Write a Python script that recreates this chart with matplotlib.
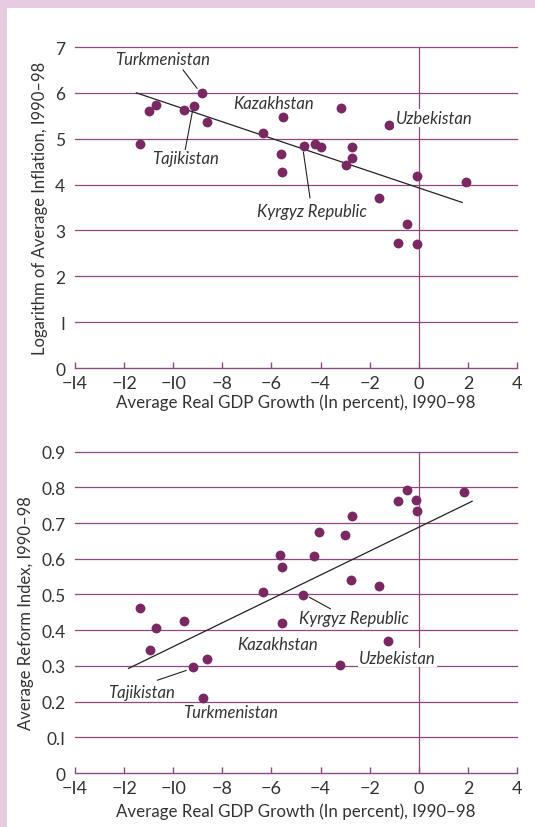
import matplotlib.pyplot as plt
from matplotlib.patches import Rectangle

# colours
PURPLE = '#8c4a7e'
DOT = '#7a2862'
TEXT = '#333333'
PINK = '#e7cbe3'

plt.rcParams['font.family'] = ['Lato', 'DejaVu Sans']

# panel 1: growth vs log inflation
growth_top = [-11.37, -10.98, -10.69, -9.57, -9.14, -8.82, -8.62, -6.33, -5.54, -5.62,
              -5.56, -4.67, -4.22, -3.99, -3.15, -2.97, -2.70, -2.74, -1.61, -1.23,
              -0.86, -0.48, -0.07, -0.07, 1.93]
log_infl = [4.89, 5.60, 5.74, 5.63, 5.71, 5.99, 5.37, 5.13, 5.47, 4.67,
            4.27, 4.84, 4.88, 4.82, 5.66, 4.43, 4.82, 4.58, 3.71, 5.29,
            2.73, 3.13, 4.19, 2.71, 4.05]
fit_top_x = [-11.5, 1.77]
fit_top_y = [6.0, 3.61]

# panel 2: growth vs reform index
growth_bot = [-11.34, -10.95, -10.70, -9.56, -9.18, -8.64, -8.80, -6.36, -5.64, -5.57,
              -5.57, -4.70, -4.28, -4.05, -2.99, -2.73, -2.76, -1.63, -3.19, -1.26,
              -0.86, -0.50, -0.11, -0.08, 1.83]
reform = [0.461, 0.345, 0.407, 0.427, 0.296, 0.319, 0.210, 0.506, 0.611, 0.576,
          0.420, 0.499, 0.609, 0.676, 0.668, 0.719, 0.541, 0.525, 0.303, 0.369,
          0.761, 0.794, 0.766, 0.734, 0.786]
fit_bot_x = [-11.82, 2.17]
fit_bot_y = [0.293, 0.761]

x_ticks = list(range(-14, 5, 2))
top_yticks = [0, 1, 2, 3, 4, 5, 6, 7]
top_ylabels = ['0', 'I', '2', '3', '4', '5', '6', '7']
bot_yticks = [0, 0.1, 0.2, 0.3, 0.4, 0.5, 0.6, 0.7, 0.8, 0.9]
bot_ylabels = ['0', '0.I', '0.2', '0.3', '0.4', '0.5', '0.6', '0.7', '0.8', '0.9']
x_labels = ['\u2212I4', '\u2212I2', '\u2212I0', '\u22128', '\u22126', '\u22124', '\u22122', '0', '2', '4']


def style_axes(ax, yticks, ylabels, ylabel, xpad):
    ax.set_xlim(-14, 4)
    ax.set_ylim(0, yticks[-1])
    for side in ['left', 'top', 'right']:
        ax.spines[side].set_visible(False)
    ax.spines['bottom'].set_color(PURPLE)
    ax.spines['bottom'].set_linewidth(1.0)
    ax.set_xticks(x_ticks)
    ax.set_xticklabels(x_labels)
    ax.set_yticks(yticks)
    ax.set_yticklabels(ylabels)
    ax.tick_params(axis='x', direction='in', length=4, color=PURPLE, width=1.0,
                   labelsize=13, labelcolor=TEXT, pad=5)
    ax.tick_params(axis='y', length=0, labelsize=12.5, labelcolor=TEXT, pad=7)
    for y in yticks[1:]:
        ax.axhline(y, color=PURPLE, lw=0.9, zorder=1, clip_on=False)
    ax.axvline(0, color=PURPLE, lw=0.9, zorder=1, clip_on=False)
    ax.set_xlabel('Average Real GDP Growth (In percent), I990\u201398', fontsize=12.2, color=TEXT, labelpad=xpad)
    ax.set_ylabel(ylabel, fontsize=12, color=TEXT, labelpad=5)
    ax.set_facecolor('none')


fig = plt.figure(figsize=(5.35, 8.28), dpi=100)
fig.patch.set_facecolor(PINK)
fig.patches.append(Rectangle((7 / 535, 0), 1, 1 - 9 / 828, transform=fig.transFigure,
                             facecolor='white', edgecolor='none', zorder=-10))

lab = dict(fontsize=12, style='italic', color=TEXT, zorder=4)
lead = dict(color='#222222', lw=0.8, zorder=2)

# top panel
ax1 = fig.add_axes([0.1402, 0.5543, 0.8262, 0.3877])
style_axes(ax1, top_yticks, top_ylabels, 'Logarithm of Average Inflation, I990\u201398', 2)
ax1.plot(fit_top_x, fit_top_y, color='#222222', lw=0.9, zorder=2)
ax1.scatter(growth_top, log_infl, s=50, color=DOT, zorder=3, linewidths=0)
ax1.text(-10.45, 6.73, 'Turkmenistan', ha='center', va='center', **lab)
ax1.plot([-9.6, -9.03], [6.50, 6.10], **lead)
ax1.text(-5.9, 5.79, 'Kazakhstan', ha='center', va='center', **lab)
ax1.text(-0.95, 5.45, 'Uzbekistan', ha='left', va='center',
         bbox=dict(facecolor='white', edgecolor='none', pad=1), **lab)
ax1.text(-9.51, 4.58, 'Tajikistan', ha='center', va='center', **lab)
ax1.plot([-9.51, -9.21], [4.77, 5.62], **lead)
ax1.text(-4.37, 3.42, 'Kyrgyz Republic', ha='center', va='center', **lab)
ax1.plot([-4.43, -4.70], [3.71, 4.71], **lead)

# bottom panel
ax2 = fig.add_axes([0.1402, 0.0652, 0.8262, 0.3881])
style_axes(ax2, bot_yticks, bot_ylabels, 'Average Reform Index, I990\u201398', 5)
ax2.plot(fit_bot_x, fit_bot_y, color='#222222', lw=0.9, zorder=2)
ax2.scatter(growth_bot, reform, s=50, color=DOT, zorder=3, linewidths=0)
ax2.text(-2.65, 0.434, 'Kyrgyz Republic', ha='center', va='center', **lab)
ax2.plot([-4.45, -3.6], [0.492, 0.46], **lead)
ax2.text(-5.77, 0.361, 'Kazakhstan', ha='center', va='center', **lab)
ax2.text(-2.42, 0.323, 'Uzbekistan', ha='left', va='center',
         bbox=dict(facecolor='white', edgecolor='none', pad=1), **lab)
ax2.text(-11.29, 0.226, 'Tajikistan', ha='center', va='center', **lab)
ax2.plot([-10.64, -9.48], [0.260, 0.287], **lead)
ax2.text(-7.65, 0.170, 'Turkmenistan', ha='center', va='center', **lab)

fig.savefig('out.png', dpi=100, facecolor=fig.get_facecolor())
